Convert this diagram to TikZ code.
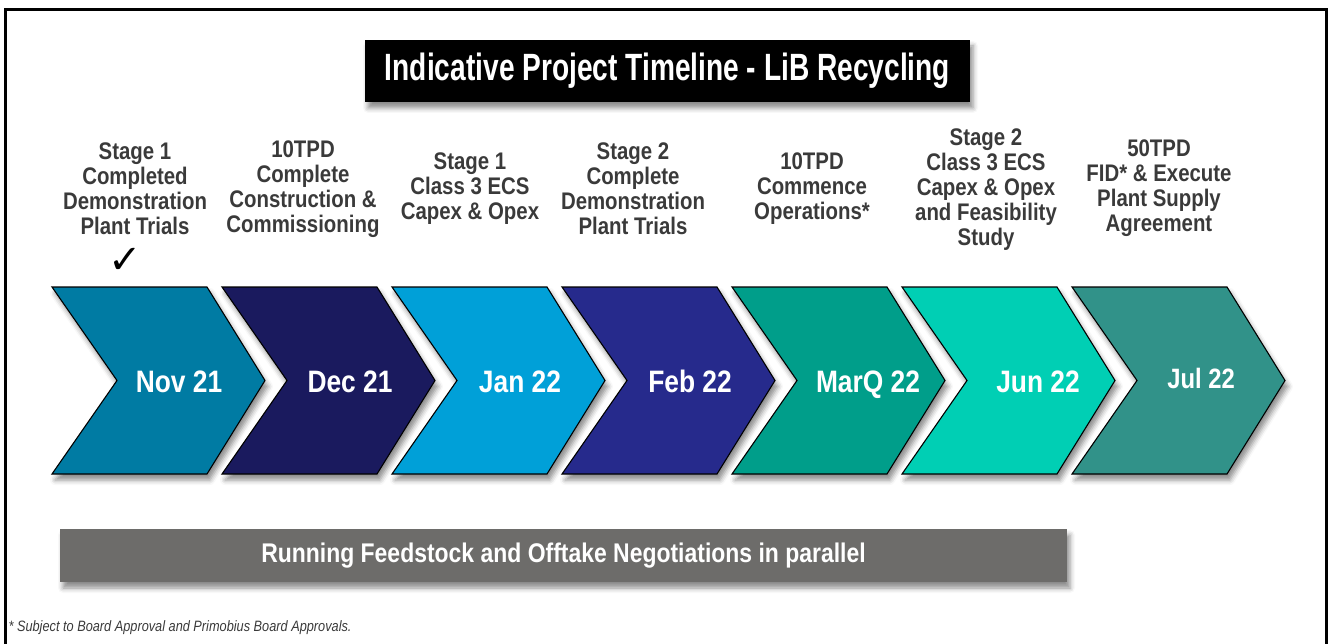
\documentclass[tikz,border=0pt]{standalone}
\usepackage{fontspec}
\setmainfont{Liberation Sans}
\newfontfamily\condfont[FakeStretch=0.85]{Liberation Sans}
\newfontfamily\titlefont[FakeStretch=0.74]{Liberation Sans}
\newfontfamily\tickfont{DejaVu Sans}
\usetikzlibrary{shadows.blur}

\definecolor{cNov}{RGB}{0,123,163}
\definecolor{cDec}{RGB}{26,26,94}
\definecolor{cJan}{RGB}{0,160,216}
\definecolor{cFeb}{RGB}{38,42,140}
\definecolor{cMar}{RGB}{0,158,138}
\definecolor{cJun}{RGB}{0,207,180}
\definecolor{cJul}{RGB}{49,146,137}
\definecolor{notegray}{RGB}{58,58,58}
\definecolor{bargray}{RGB}{109,108,106}

\begin{document}
\begin{tikzpicture}[
  x=1pt, y=-1pt,
  shade/.style={blur shadow={shadow xshift=3pt, shadow yshift=-6pt, shadow blur radius=5pt, shadow opacity=45}},
  chevron/.style={draw=black, line width=1.1pt, line join=miter, shade},
  note/.style={align=center, text=notegray, font=\condfont\bfseries\fontsize{24}{25}\selectfont},
  date/.style={anchor=base, text=white, font=\condfont\bfseries\fontsize{31}{31}\selectfont}
]
\useasboundingbox (0,0) rectangle (1329,644);

% frame, open at the bottom
\draw[line width=3pt] (5.5,650) -- (5.5,9.5) -- (1326.5,9.5) -- (1326.5,650);

% title
\node[fill=black, text=white, minimum width=605pt, minimum height=62pt, shade,
  font=\titlefont\bfseries\fontsize{38}{38}\selectfont] (title) at (667.5,71) {Indicative Project Timeline - LiB Recycling};

% chevrons
\foreach \x/\col in {52/cNov, 222/cDec, 392/cJan, 562/cFeb, 732/cMar, 902/cJun, 1072/cJul}
  \draw[chevron, fill=\col] (\x,287) -- ++(155,0) -- ++(58,93.5) -- ++(-58,93.5) -- ++(-155,0) -- ++(65,-93.5) -- cycle;

\node[date] (nov) at (179,392) {Nov 21};
\node[date] (dec) at (350,392) {Dec 21};
\node[date] (jan) at (520,392) {Jan 22};
\node[date] (feb) at (690,392) {Feb 22};
\node[date] (mar) at (868,392) {MarQ 22};
\node[date] (jun) at (1038,392) {Jun 22};
\node[date, font=\condfont\bfseries\fontsize{28}{28}\selectfont] (jul) at (1201,388) {Jul 22};

% milestones
\node[note] (nov_note) at (135,189) {Stage 1\\Completed\\Demonstration\\Plant Trials};
\node[note] (dec_note) at (303,189) {10TPD\\Complete\\Construction \&\\Commissioning};
\node[note] (jan_note) at (470,189) {Stage 1\\Class 3 ECS\\Capex \& Opex};
\node[note] (feb_note) at (633,189) {Stage 2\\Complete\\Demonstration\\Plant Trials};
\node[note] (mar_note) at (812,189) {10TPD\\Commence\\Operations*};
\node[note] (jun_note) at (986,190) {Stage 2\\Class 3 ECS\\Capex \& Opex\\and Feasibility\\Study};
\node[note] (jul_note) at (1159,188) {50TPD\\FID* \& Execute\\Plant Supply\\Agreement};

\node[font=\tickfont\bfseries\fontsize{40}{40}\selectfont] (tick) at (125,261) {✓};

% parallel work
\node[fill=bargray, text=white, minimum width=1007pt, minimum height=53pt, shade,
  font=\condfont\bfseries\fontsize{27}{27}\selectfont] (talks) at (563.5,555.5) {Running Feedstock and Offtake Negotiations in parallel};

\node[anchor=west, text=notegray, font=\condfont\itshape\fontsize{15}{17}\selectfont] (footnote) at (5,628) {* Subject to Board Approval and Primobius Board Approvals.};
\end{tikzpicture}
\end{document}
